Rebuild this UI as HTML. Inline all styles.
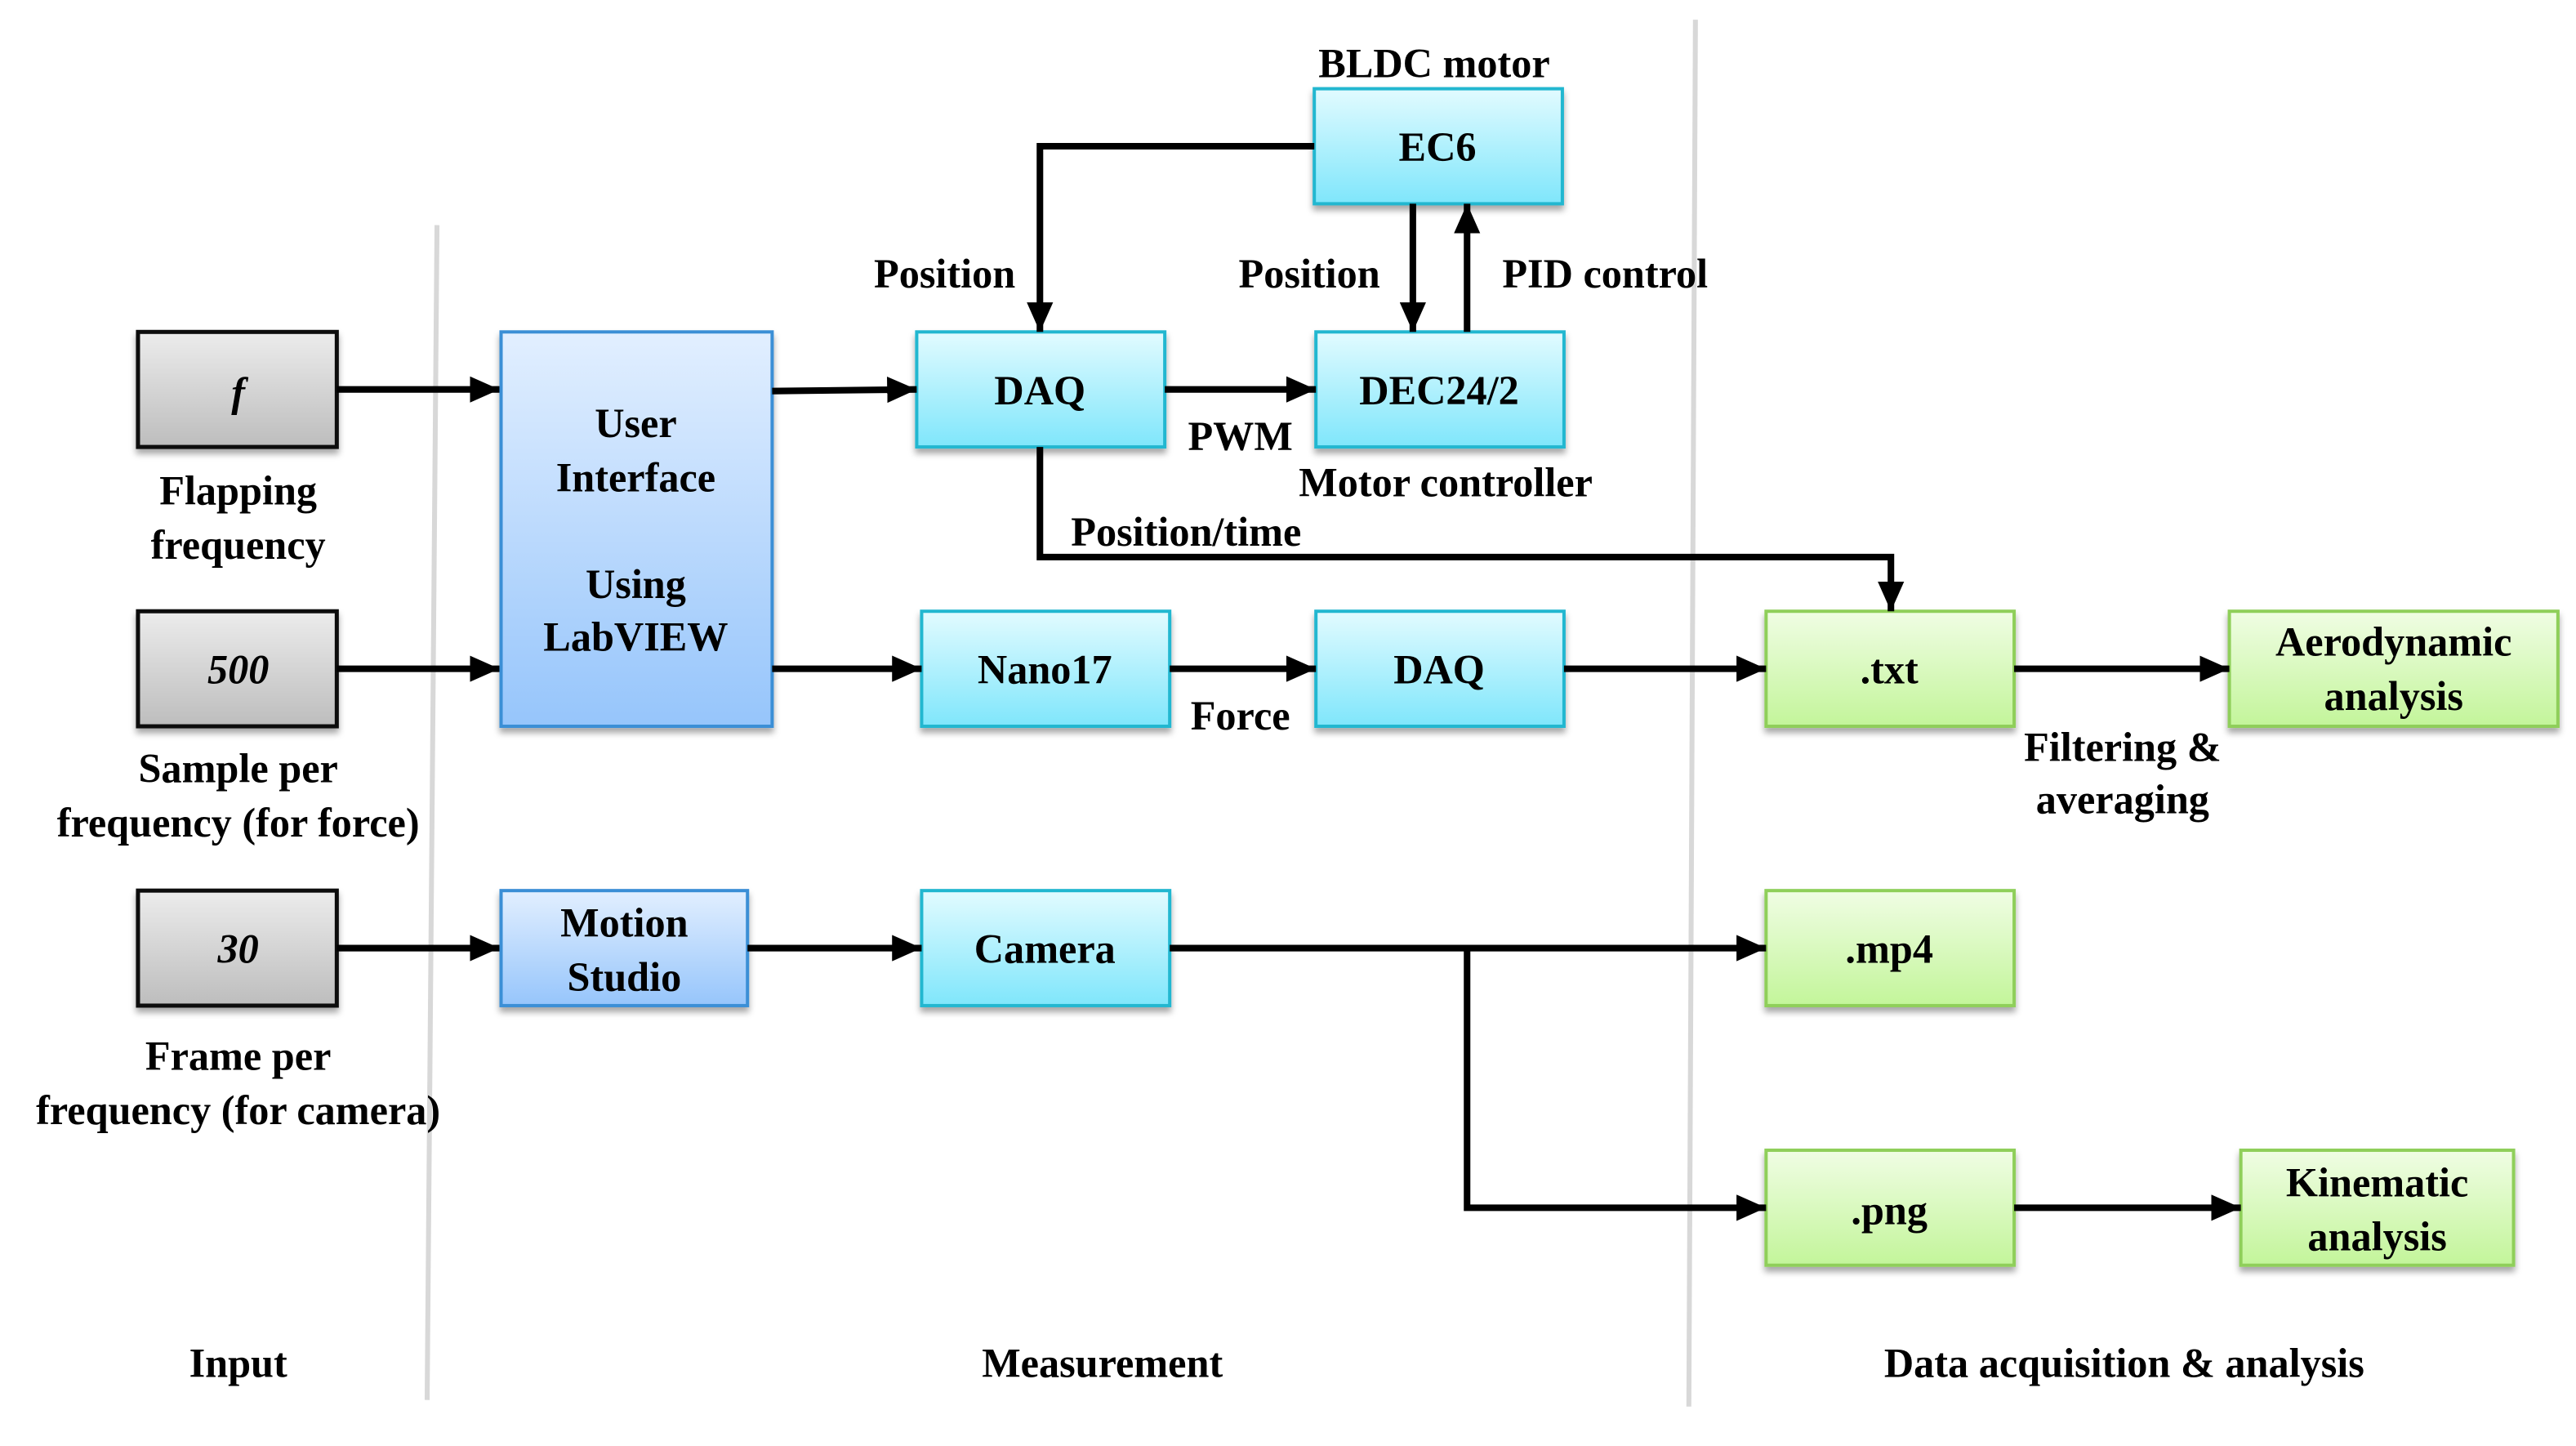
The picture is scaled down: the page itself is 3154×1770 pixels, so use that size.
<!DOCTYPE html>
<html><head><meta charset="utf-8"><style>
html,body{margin:0;padding:0;background:#fff;}
svg{display:block;}
text{font-family:"Liberation Serif",serif;font-weight:bold;fill:#000;font-size:25px;text-anchor:middle;}
</style></head><body>
<svg width="3154" height="1770" viewBox="0 0 1568 880" preserveAspectRatio="none" xmlns="http://www.w3.org/2000/svg">
<defs>
<linearGradient id="gy" x1="0" y1="0" x2="0" y2="1"><stop offset="0" stop-color="#ececec"/><stop offset="1" stop-color="#bdbdbd"/></linearGradient>
<linearGradient id="bl" x1="0" y1="0" x2="0" y2="1"><stop offset="0" stop-color="#e2efff"/><stop offset="1" stop-color="#96c5fb"/></linearGradient>
<linearGradient id="cy" x1="0" y1="0" x2="0" y2="1"><stop offset="0" stop-color="#e2fbff"/><stop offset="1" stop-color="#7fe6fb"/></linearGradient>
<linearGradient id="gr" x1="0" y1="0" x2="0" y2="1"><stop offset="0" stop-color="#f0fde4"/><stop offset="1" stop-color="#c3f59a"/></linearGradient>
<filter id="sh" x="-10%" y="-10%" width="130%" height="140%"><feDropShadow dx="0" dy="3" stdDeviation="2" flood-color="#000" flood-opacity="0.35"/></filter>
<marker id="ah" markerWidth="18" markerHeight="16" refX="18" refY="8" orient="auto" markerUnits="userSpaceOnUse" viewBox="0 0 18 16"><path d="M0,0 L18,8 L0,16 z" fill="#000"/></marker>
</defs>
<line x1="266" y1="137" x2="260" y2="852" stroke="#d8d8d8" stroke-width="3"/>
<line x1="1032" y1="12" x2="1028" y2="856" stroke="#d8d8d8" stroke-width="3"/>
<g filter="url(#sh)">
<rect x="84" y="202" width="121" height="70" fill="url(#gy)" stroke="#111" stroke-width="2.5"/>
<rect x="84" y="372" width="121" height="70" fill="url(#gy)" stroke="#111" stroke-width="2.5"/>
<rect x="84" y="542" width="121" height="70" fill="url(#gy)" stroke="#111" stroke-width="2.5"/>
<rect x="305" y="202" width="165" height="240" fill="url(#bl)" stroke="#3b8fd6" stroke-width="2"/>
<rect x="305" y="542" width="150" height="70" fill="url(#bl)" stroke="#3b8fd6" stroke-width="2"/>
<rect x="558" y="202" width="151" height="70" fill="url(#cy)" stroke="#22b7d0" stroke-width="2"/>
<rect x="800" y="54" width="151" height="70" fill="url(#cy)" stroke="#22b7d0" stroke-width="2"/>
<rect x="801" y="202" width="151" height="70" fill="url(#cy)" stroke="#22b7d0" stroke-width="2"/>
<rect x="561" y="372" width="151" height="70" fill="url(#cy)" stroke="#22b7d0" stroke-width="2"/>
<rect x="801" y="372" width="151" height="70" fill="url(#cy)" stroke="#22b7d0" stroke-width="2"/>
<rect x="561" y="542" width="151" height="70" fill="url(#cy)" stroke="#22b7d0" stroke-width="2"/>
<rect x="1075" y="372" width="151" height="70" fill="url(#gr)" stroke="#8fcf5a" stroke-width="2"/>
<rect x="1357" y="372" width="200" height="70" fill="url(#gr)" stroke="#8fcf5a" stroke-width="2"/>
<rect x="1075" y="542" width="151" height="70" fill="url(#gr)" stroke="#8fcf5a" stroke-width="2"/>
<rect x="1075" y="700" width="151" height="70" fill="url(#gr)" stroke="#8fcf5a" stroke-width="2"/>
<rect x="1364" y="700" width="166" height="70" fill="url(#gr)" stroke="#8fcf5a" stroke-width="2"/>
</g>
<g stroke="#000" stroke-width="4" fill="none" marker-end="url(#ah)">
<line x1="205" y1="237" x2="304" y2="237"/>
<line x1="205" y1="407" x2="304" y2="407"/>
<line x1="205" y1="577" x2="304" y2="577"/>
<line x1="470" y1="238" x2="558" y2="237"/>
<line x1="470" y1="407" x2="561" y2="407"/>
<line x1="455" y1="577" x2="561" y2="577"/>
<line x1="709" y1="237" x2="801" y2="237"/>
<polyline points="800,89 633,89 633,202"/>
<line x1="860" y1="124" x2="860" y2="202"/>
<line x1="893" y1="202" x2="893" y2="124"/>
<polyline points="633,272 633,339 1151,339 1151,372"/>
<line x1="712" y1="407" x2="801" y2="407"/>
<line x1="952" y1="407" x2="1075" y2="407"/>
<line x1="1226" y1="407" x2="1357" y2="407"/>
<line x1="712" y1="577" x2="1075" y2="577"/>
<polyline points="893,577 893,735 1075,735"/>
<line x1="1226" y1="735" x2="1364" y2="735"/>
</g>
<g>
<text x="145" y="247" font-style="italic" font-size="26">f</text>
<text x="145" y="416" font-style="italic" font-size="26">500</text>
<text x="145" y="586" font-style="italic" font-size="26">30</text>
<text x="145" y="307">Flapping</text>
<text x="145" y="340">frequency</text>
<text x="145" y="476">Sample per</text>
<text x="145" y="509">frequency (for force)</text>
<text x="145" y="651">Frame per</text>
<text x="145" y="684">frequency (for camera)</text>
<text x="387" y="266">User</text>
<text x="387" y="299">Interface</text>
<text x="387" y="364">Using</text>
<text x="387" y="396">LabVIEW</text>
<text x="380" y="570">Motion</text>
<text x="380" y="603">Studio</text>
<text x="633" y="246">DAQ</text>
<text x="875" y="98">EC6</text>
<text x="876" y="246">DEC24/2</text>
<text x="636" y="416">Nano17</text>
<text x="876" y="416">DAQ</text>
<text x="636" y="586">Camera</text>
<text x="1150" y="416">.txt</text>
<text x="1457" y="399">Aerodynamic</text>
<text x="1457" y="432">analysis</text>
<text x="1150" y="586">.mp4</text>
<text x="1150" y="745">.png</text>
<text x="1447" y="728">Kinematic</text>
<text x="1447" y="761">analysis</text>
<text x="873" y="47">BLDC motor</text>
<text x="575" y="175">Position</text>
<text x="797" y="175">Position</text>
<text x="977" y="175">PID control</text>
<text x="755" y="274">PWM</text>
<text x="880" y="302">Motor controller</text>
<text x="722" y="332">Position/time</text>
<text x="755" y="444">Force</text>
<text x="1292" y="463">Filtering &amp;</text>
<text x="1292" y="495">averaging</text>
<text x="145" y="838">Input</text>
<text x="671" y="838">Measurement</text>
<text x="1293" y="838">Data acquisition &amp; analysis</text>
</g>
</svg>
</body></html>
